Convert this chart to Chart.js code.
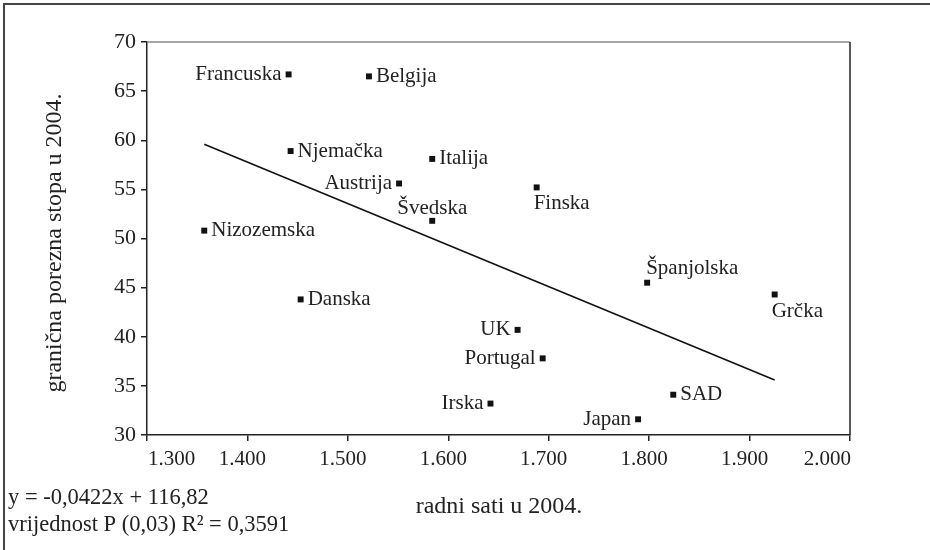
<!DOCTYPE html>
<html>
<head>
<meta charset="utf-8">
<script src="https://cdn.jsdelivr.net/npm/chart.js@4"></script>
<style>
  html, body { margin: 0; padding: 0; background: #fff; }
  #wrap { width: 930px; height: 550px; position: relative; }
</style>
</head>
<body>
<div id="wrap"><canvas id="chart" width="930" height="550"></canvas></div>
<script>
// data
const countries = ["Francuska", "Belgija", "Njemačka", "Italija", "Austrija", "Švedska", "Finska", "Nizozemska",
    "Španjolska", "Grčka", "Danska", "UK", "Portugal", "Irska", "SAD", "Japan"];
const workHours = [1441, 1521, 1443, 1584, 1551, 1584, 1688, 1357, 1798, 1925, 1453, 1669, 1694, 1642, 1824, 1789];
const taxRate = [66.7, 66.5, 58.9, 58.1, 55.6, 51.8, 55.2, 50.8, 45.5, 44.3, 43.8, 40.7, 37.8, 33.2, 34.1, 31.6];
const trendX = [1357, 1925];
const trendY = [59.6, 35.6];
const xTicks = [1300, 1400, 1500, 1600, 1700, 1800, 1900, 2000];
const yTicks = [30, 35, 40, 45, 50, 55, 60, 65, 70];
const xTitle = "radni sati u 2004.";
const yTitle = "granična porezna stopa u 2004.";
const equationLines = ["y = -0,0422x + 116,82", "vrijednost P (0,03) R² = 0,3591"];

// where each label sits relative to its point
const labelPlacement = {
    "Francuska": "l", "Belgija": "r", "Njemačka": "r", "Italija": "r", "Austrija": "l",
    "Švedska": "above", "Finska": "below", "Nizozemska": "r", "Španjolska": "aboveL",
    "Grčka": "below", "Danska": "r", "UK": "l", "Portugal": "l", "Irska": "l", "SAD": "r", "Japan": "l"
};

const FONT = "'Liberation Serif', 'Times New Roman', serif";
const INK = "#222";

const points = workHours.map((h, i) => ({ x: h, y: taxRate[i] }));
const trend = trendX.map((x, i) => ({ x: x, y: trendY[i] }));

const fmtHours = v => (v / 1000).toFixed(3);

const decor = {
    id: "decor",
    afterDraw(chart) {
        const ctx = chart.ctx;
        const a = chart.chartArea;
        ctx.save();

        // outer frame (left + top)
        ctx.strokeStyle = "#444";
        ctx.lineWidth = 2;
        ctx.beginPath();
        ctx.moveTo(4, 550);
        ctx.lineTo(4, 4);
        ctx.lineTo(930, 4);
        ctx.stroke();

        // plot area border top (grey) and right (dark)
        ctx.lineWidth = 1.5;
        ctx.strokeStyle = "#888";
        ctx.beginPath();
        ctx.moveTo(a.left, a.top);
        ctx.lineTo(a.right, a.top);
        ctx.stroke();
        ctx.strokeStyle = INK;
        ctx.beginPath();
        ctx.moveTo(a.right, a.top);
        ctx.lineTo(a.right, a.bottom);
        ctx.stroke();

        ctx.fillStyle = INK;

        // x tick labels: first hugs the left, last hugs the right
        ctx.font = "21px " + FONT;
        ctx.textBaseline = "middle";
        const xs = chart.scales.x;
        xTicks.forEach((v, i) => {
            const px = xs.getPixelForValue(v);
            if (i === 0) {
                ctx.textAlign = "left";
                ctx.fillText(fmtHours(v), px + 1, 459);
            } else if (i === xTicks.length - 1) {
                ctx.textAlign = "right";
                ctx.fillText(fmtHours(v), px + 1, 459);
            } else {
                ctx.textAlign = "center";
                ctx.fillText(fmtHours(v), px - 5, 459);
            }
        });

        // point labels
        ctx.font = "21px " + FONT;
        const meta = chart.getDatasetMeta(0);
        meta.data.forEach((pt, i) => {
            const name = countries[i];
            const pos = labelPlacement[name];
            let x = pt.x, y = pt.y;
            ctx.textBaseline = "middle";
            if (pos === "l") {
                ctx.textAlign = "right";
                x -= 7;
            } else if (pos === "r") {
                ctx.textAlign = "left";
                x += 7;
            } else if (pos === "above") {
                ctx.textAlign = "center";
                ctx.textBaseline = "alphabetic";
                y -= 7;
            } else if (pos === "aboveL") {
                ctx.textAlign = "left";
                ctx.textBaseline = "alphabetic";
                x -= 1;
                y -= 9;
            } else {
                ctx.textAlign = "left";
                ctx.textBaseline = "alphabetic";
                x -= 3;
                y += 22;
            }
            ctx.fillText(name, x, y);
        });

        // axis titles
        ctx.font = "24px " + FONT;
        ctx.textAlign = "center";
        ctx.textBaseline = "middle";
        ctx.fillText(xTitle, 499, 507);
        ctx.save();
        ctx.translate(55, 243);
        ctx.rotate(-Math.PI / 2);
        ctx.fillText(yTitle, 0, 0);
        ctx.restore();

        // regression note
        ctx.font = "22.5px " + FONT;
        ctx.textAlign = "left";
        ctx.fillText(equationLines[0], 8, 498);
        ctx.fillText(equationLines[1], 8, 525);

        ctx.restore();
    }
};

new Chart(document.getElementById("chart"), {
    type: "scatter",
    data: {
        datasets: [
            {
                data: points,
                pointStyle: "rect",
                pointRadius: 4.2,
                backgroundColor: "#111",
                borderColor: "#111",
                borderWidth: 0
            },
            {
                type: "line",
                data: trend,
                borderColor: "#111",
                borderWidth: 1.6,
                pointRadius: 0,
                fill: false
            }
        ]
    },
    options: {
        responsive: false,
        animation: false,
        events: [],
        layout: { padding: { left: 0, top: 42, right: 80, bottom: 0 } },
        plugins: { legend: { display: false }, tooltip: { enabled: false } },
        scales: {
            x: {
                type: "linear",
                min: xTicks[0],
                max: xTicks[xTicks.length - 1],
                afterBuildTicks: s => { s.ticks = xTicks.map(v => ({ value: v })); },
                afterFit: s => { s.height = 115; },
                ticks: { display: false },
                grid: { drawOnChartArea: false, drawTicks: true, tickLength: 6, color: INK, lineWidth: 1.5 },
                border: { display: true, color: INK, width: 1.5 }
            },
            y: {
                min: yTicks[0],
                max: yTicks[yTicks.length - 1],
                afterBuildTicks: s => { s.ticks = yTicks.map(v => ({ value: v })); },
                afterFit: s => { s.width = 147; },
                ticks: {
                    color: INK,
                    font: { family: FONT, size: 22 },
                    padding: 5
                },
                grid: { drawOnChartArea: false, drawTicks: true, tickLength: 6, color: INK, lineWidth: 1.5 },
                border: { display: true, color: INK, width: 1.5 }
            }
        }
    },
    plugins: [decor]
});
</script>
</body>
</html>
